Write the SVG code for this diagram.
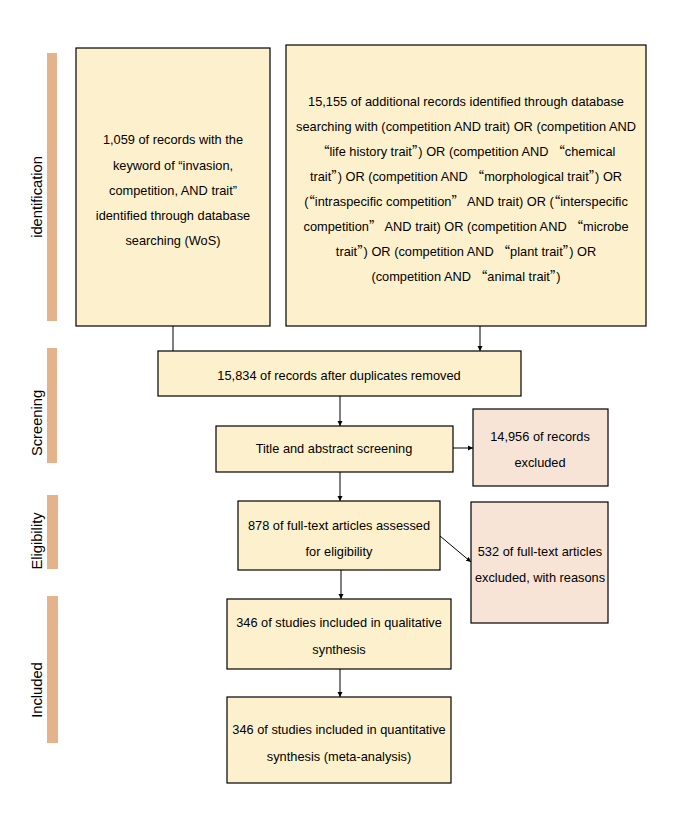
<svg xmlns="http://www.w3.org/2000/svg" width="682" height="830" viewBox="0 0 682 830">
  <style>
    .box { fill: #FDF1CD; stroke: #000; stroke-width: 1.2; }
    .excl { fill: #F7E4D7; stroke: #000; stroke-width: 1.2; }
    .bar { fill: #E5B38B; }
    .t { font-family: "Liberation Sans", Arial, sans-serif; font-size: 12.8px; fill: #000; text-anchor: middle; }
    .q { font-family: "Noto Sans CJK SC", sans-serif; }
    .side { font-family: "Liberation Sans", Arial, sans-serif; font-size: 14.7px; fill: #000; text-anchor: middle; }
    .conn line { stroke: #000; stroke-width: 1; }
  </style>
  <defs>
    <marker id="arrow" markerWidth="6" markerHeight="6" refX="5" refY="3" orient="auto" markerUnits="userSpaceOnUse">
      <path d="M0,0.5 L5,3 L0,5.5 z" fill="#000"/>
    </marker>
  </defs>
  <rect width="682" height="830" fill="#fff"/>

  <!-- phase bars on the left -->
  <g id="phases">
    <rect class="bar" x="47" y="53" width="10" height="268"/>
    <text class="side" transform="translate(42,197) rotate(-90)">identification</text>
    <rect class="bar" x="47" y="348" width="10" height="115"/>
    <text class="side" transform="translate(42,423) rotate(-90)">Screening</text>
    <rect class="bar" x="47" y="495" width="11" height="74"/>
    <text class="side" transform="translate(42,541) rotate(-90)">Eligibility</text>
    <rect class="bar" x="47" y="596" width="11" height="147"/>
    <text class="side" transform="translate(42,690) rotate(-90)">Included</text>
  </g>

  <!-- connectors -->
  <g id="connectors" class="conn">
    <line x1="173" y1="326" x2="173" y2="351"/>
    <line x1="480" y1="326" x2="480" y2="351" marker-end="url(#arrow)"/>
    <line x1="340" y1="396" x2="340" y2="426" marker-end="url(#arrow)"/>
    <line x1="453" y1="448" x2="473" y2="448" marker-end="url(#arrow)"/>
    <line x1="340" y1="472" x2="340" y2="501" marker-end="url(#arrow)"/>
    <line x1="440" y1="536" x2="471" y2="562" marker-end="url(#arrow)"/>
    <line x1="341" y1="570" x2="341" y2="599" marker-end="url(#arrow)"/>
    <line x1="340" y1="669" x2="340" y2="697" marker-end="url(#arrow)"/>
  </g>

  <g id="wos-records">
    <rect class="box" x="76" y="48" width="194" height="278"/>
    <text class="t" x="173" y="144">1,059 of records with the</text>
    <text class="t" x="173" y="170">keyword of “invasion,</text>
    <text class="t" x="173" y="195">competition, AND trait”</text>
    <text class="t" x="173" y="220">identified through database</text>
    <text class="t" x="173" y="245">searching (WoS)</text>
  </g>

  <g id="additional-records">
    <rect class="box" x="286" y="45" width="360" height="281"/>
    <text class="t" x="466" y="106">15,155 of additional records identified through database</text>
    <text class="t" x="466" y="131">searching with (competition AND trait) OR (competition AND</text>
    <text class="t" x="466" y="156"><tspan class="q">“</tspan>life history trait<tspan class="q">”</tspan>) OR (competition AND <tspan class="q">“</tspan>chemical</text>
    <text class="t" x="466" y="181">trait<tspan class="q">”</tspan>) OR (competition AND <tspan class="q">“</tspan>morphological trait<tspan class="q">”</tspan>) OR</text>
    <text class="t" x="466" y="206">(<tspan class="q">“</tspan>intraspecific competition<tspan class="q">”</tspan> AND trait) OR (<tspan class="q">“</tspan>interspecific</text>
    <text class="t" x="466" y="231">competition<tspan class="q">”</tspan> AND trait) OR (competition AND <tspan class="q">“</tspan>microbe</text>
    <text class="t" x="466" y="256">trait<tspan class="q">”</tspan>) OR (competition AND <tspan class="q">“</tspan>plant trait<tspan class="q">”</tspan>) OR</text>
    <text class="t" x="466" y="281">(competition AND <tspan class="q">“</tspan>animal trait<tspan class="q">”</tspan>)</text>
  </g>

  <g id="deduplicated">
    <rect class="box" x="158" y="351" width="363" height="45"/>
    <text class="t" x="339" y="380">15,834 of records after duplicates removed</text>
  </g>

  <g id="title-abstract">
    <rect class="box" x="216" y="426" width="237" height="46"/>
    <text class="t" x="334" y="453">Title and abstract screening</text>
  </g>

  <g id="records-excluded">
    <rect class="excl" x="473" y="409" width="135" height="77"/>
    <text class="t" x="540" y="441">14,956 of records</text>
    <text class="t" x="540" y="467">excluded</text>
  </g>

  <g id="full-text">
    <rect class="box" x="238" y="501" width="202" height="69"/>
    <text class="t" x="339" y="530">878 of full-text articles assessed</text>
    <text class="t" x="339" y="556">for eligibility</text>
  </g>

  <g id="full-text-excluded">
    <rect class="excl" x="471" y="502" width="137" height="121"/>
    <text class="t" x="540" y="556">532 of full-text articles</text>
    <text class="t" x="540" y="582">excluded, with reasons</text>
  </g>

  <g id="qualitative">
    <rect class="box" x="227" y="599" width="224" height="70"/>
    <text class="t" x="339" y="627">346 of studies included in qualitative</text>
    <text class="t" x="339" y="654">synthesis</text>
  </g>

  <g id="quantitative">
    <rect class="box" x="227" y="697" width="224" height="86"/>
    <text class="t" x="339" y="734">346 of studies included in quantitative</text>
    <text class="t" x="339" y="761">synthesis (meta-analysis)</text>
  </g>
</svg>
